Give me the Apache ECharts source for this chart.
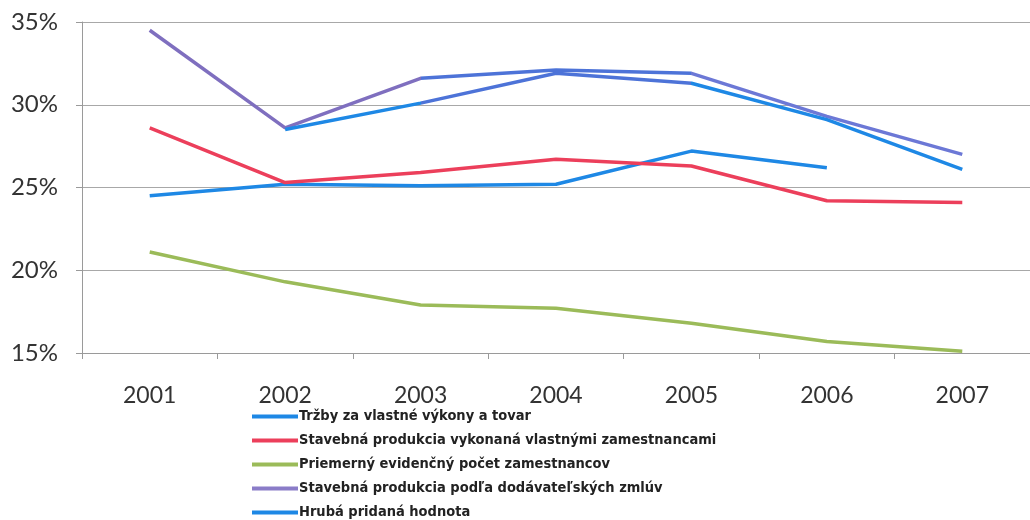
<!DOCTYPE html>
<html>
<head>
<meta charset="UTF-8">
<title>Podiel</title>
<script src="https://cdn.jsdelivr.net/npm/echarts@6/dist/echarts.min.js"></script>
<style>
  html, body { margin: 0; padding: 0; background: #fff; }
</style>
</head>
<body>
<div id="main" style="width: 1030px; height: 520px;"></div>
<script type="text/javascript">
var years = ['2001', '2002', '2003', '2004', '2005', '2006', '2007'];
var yTicks = [15, 20, 25, 30, 35];

var seriesNames = [
  'Tržby za vlastné výkony a tovar',
  'Stavebná produkcia vykonaná vlastnými zamestnancami',
  'Priemerný evidenčný počet zamestnancov',
  'Stavebná produkcia podľa dodávateľských zmlúv',
  'Hrubá pridaná hodnota'
];
var trzby = [24.5, 25.2, 25.1, 25.2, 27.2, 26.2, null];
var produkciaVlastni = [28.6, 25.3, 25.9, 26.7, 26.3, 24.2, 24.1];
var zamestnanci = [21.1, 19.3, 17.9, 17.7, 16.8, 15.7, 15.1];
var produkciaZmluvy = [34.5, 28.6, 31.6, 32.1, 31.9, 29.3, 27.0];
var pridanaHodnota = [null, 28.5, 30.1, 31.9, 31.3, 29.1, 26.1];

var colors = ['#1e88e5', '#ec3f5b', '#9bbb59', '#8a7cc8', '#1e88e5'];
var values = [trzby, produkciaVlastni, zamestnanci, produkciaZmluvy, pridanaHodnota];

var myChart = echarts.init(document.getElementById('main'));

var series = values.map(function (v, i) {
  var s = {
    name: seriesNames[i],
    type: 'line',
    data: v,
    symbol: 'none',
    lineStyle: { width: 3.5 },
    itemStyle: { color: colors[i] },
    z: 2 + i
  };
  // series 3 and 4 take their stroke from the visualMap below
  if (i < 3) s.lineStyle.color = colors[i];
  return s;
});

var option = {
  animation: false,
  backgroundColor: '#ffffff',
  grid: { left: 82, top: 22, bottom: 167, right: -32 },
  legend: {
    orient: 'vertical',
    left: 247,
    top: 404,
    height: 200,
    icon: 'rect',
    itemWidth: 46,
    itemHeight: 4,
    itemGap: 9,
    data: seriesNames.map(function (n, i) {
      return { name: n, itemStyle: { color: colors[i] } };
    }),
    textStyle: {
      fontFamily: '"Liberation Sans Narrow", "DejaVu Sans Condensed", sans-serif',
      fontWeight: 'bold',
      fontSize: 14.5,
      color: '#222222',
      padding: [0, 0, 0, -4]
    }
  },
  // the scanned original shows the two top lines changing hue along their length
  visualMap: [
    {
      type: 'piecewise', show: false, seriesIndex: 3, dimension: 0,
      pieces: [
        { lte: 1.86, color: '#7f6fbf' },
        { gt: 1.86, lte: 4.1, color: '#4d73d8' },
        { gt: 4.1, color: '#6c78d6' }
      ]
    },
    {
      type: 'piecewise', show: false, seriesIndex: 4, dimension: 0,
      pieces: [
        { lte: 1.88, color: '#1e88e5' },
        { gt: 1.88, lte: 4.15, color: '#4d73d8' },
        { gt: 4.15, color: '#1e88e5' }
      ]
    }
  ],
  xAxis: {
    type: 'category',
    data: years,
    boundaryGap: true,
    axisLine: { lineStyle: { color: '#9a9a9a', width: 1 } },
    axisTick: { show: true, length: 6, lineStyle: { color: '#9a9a9a' } },
    axisLabel: { fontFamily: 'Lato, sans-serif', fontSize: 23, color: '#333333', margin: 31 }
  },
  yAxis: {
    type: 'value',
    min: yTicks[0],
    max: yTicks[yTicks.length - 1],
    interval: 5,
    axisLine: { show: true, lineStyle: { color: '#9a9a9a', width: 1 } },
    axisTick: { show: true, length: 6, lineStyle: { color: '#9a9a9a' } },
    splitLine: { lineStyle: { color: '#a8a8a8', width: 1 } },
    axisLabel: {
      fontFamily: 'Lato, sans-serif',
      fontSize: 24,
      color: '#333333',
      margin: 24,
      formatter: '{value}%'
    }
  },
  series: series
};

myChart.setOption(option);
</script>
</body>
</html>
